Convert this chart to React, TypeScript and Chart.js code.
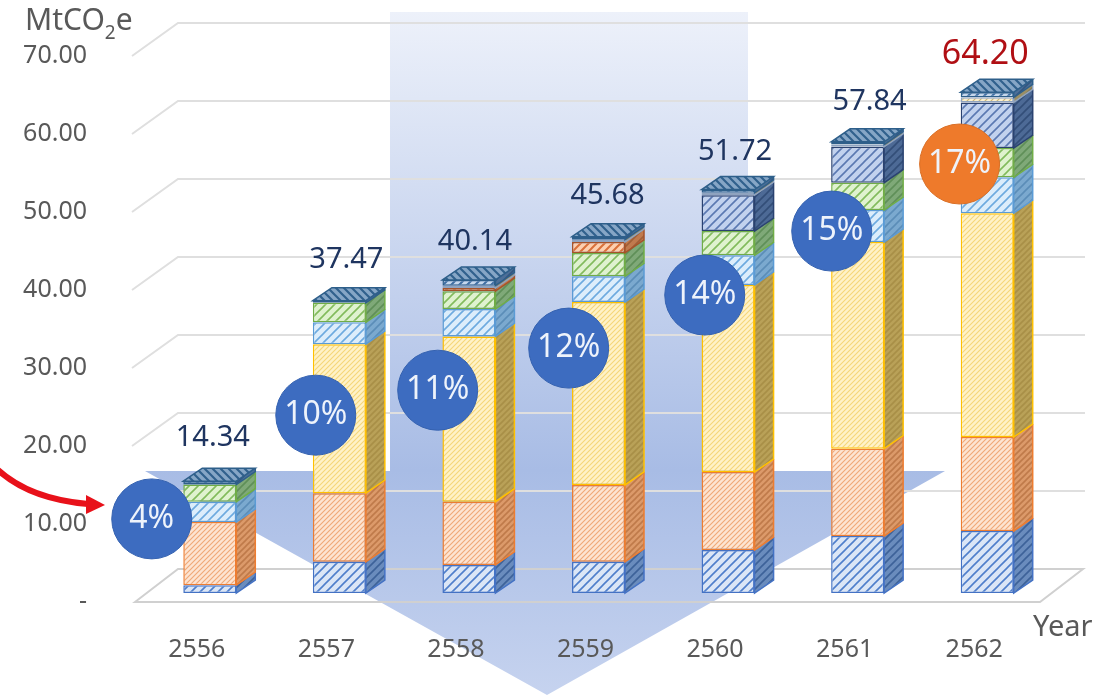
import React, { useEffect, useRef } from "react";
import { Chart, registerables } from "chart.js";

Chart.register(...registerables);

// Emissions by year, one array per stacked component (MtCO2e)
const years = ["2556", "2557", "2558", "2559", "2560", "2561", "2562"];
const baseBlue = [1.0, 4.0, 3.6, 4.0, 5.5, 7.3, 7.95];
const orange = [8.1, 8.8, 8.1, 9.85, 10.0, 11.2, 12.05];
const yellow = [0, 19.1, 21.2, 23.45, 24.0, 26.5, 28.7];
const skyBlue = [2.6, 2.8, 3.5, 3.3, 3.8, 4.1, 4.6];
const green = [2.2, 2.5, 2.3, 3.0, 3.1, 3.5, 3.75];
const rust = [0, 0, 0.4, 1.4, 0, 0, 0];
const slate = [0, 0, 0, 0, 4.6, 4.6, 5.85];
const sand = [0, 0, 0.3, 0.3, 0.3, 0.3, 0.65];
const cap = [0.44, 0.27, 0.74, 0.38, 0.42, 0.34, 0.65];
const totals = [14.34, 37.47, 40.14, 45.68, 51.72, 57.84, 64.2];
const yTicks = [0, 10, 20, 30, 40, 50, 60, 70];

// Share badges: percentage, and where each sits (category units, MtCO2e)
const shares = [4, 10, 11, 12, 14, 15, 17];
const shareX = [-0.448, 0.818, 1.759, 2.77, 3.82, 4.8, 5.787];
const shareY = [9.5, 22.8, 26, 31.4, 38.2, 46.4, 55];

const FONT = '"Noto Sans", sans-serif';
const DX = 19;
const DY = 13;

type Tone = { bg: string; line: string; gap: number; lw: number; edge: string; sideBg: string; sideLine: string };

const tones: Tone[] = [
  { bg: "#dbe6f6", line: "#4f7fcb", gap: 9, lw: 1.6, edge: "#4472c4", sideBg: "#6a8cbd", sideLine: "#3d6299" },
  { bg: "#fde4d2", line: "#f0a877", gap: 5, lw: 1.1, edge: "#ed7d31", sideBg: "#dc9a6a", sideLine: "#bf7a4a" },
  { bg: "#fff2c8", line: "#f5d679", gap: 5, lw: 1.1, edge: "#ffc000", sideBg: "#b9a158", sideLine: "#a88f47" },
  { bg: "#dcedfb", line: "#6daadf", gap: 9, lw: 1.6, edge: "#5b9bd5", sideBg: "#7ba9cf", sideLine: "#5b8db8" },
  { bg: "#dff2cf", line: "#82bb5c", gap: 9, lw: 1.6, edge: "#70ad47", sideBg: "#7fa978", sideLine: "#5f8f58" },
  { bg: "#fdd0b0", line: "#d9703a", gap: 8, lw: 2, edge: "#a5532a", sideBg: "#c07a4e", sideLine: "#a05f38" },
  { bg: "#c2d2ee", line: "#5b79b2", gap: 9, lw: 1.6, edge: "#2a4270", sideBg: "#4d6a96", sideLine: "#334e78" },
  { bg: "#fbf0d0", line: "#c9b67a", gap: 6, lw: 1.2, edge: "#8fa3bf", sideBg: "#9a8f66", sideLine: "#857a55" },
  { bg: "#c6d8ee", line: "#3f6ea3", gap: 8, lw: 2, edge: "#2e5f8a", sideBg: "#4c6f98", sideLine: "#335680" },
];

const series = [baseBlue, orange, yellow, skyBlue, green, rust, slate, sand, cap];

function hatch(bg: string, line: string, gap: number, lw: number, back = false): CanvasPattern {
  const tile = document.createElement("canvas");
  tile.width = gap;
  tile.height = gap;
  const c = tile.getContext("2d")!;
  c.fillStyle = bg;
  c.fillRect(0, 0, gap, gap);
  c.strokeStyle = line;
  c.lineWidth = lw;
  if (back) {
    c.translate(gap, 0);
    c.scale(-1, 1);
  }
  c.beginPath();
  for (const k of [-gap, 0, gap]) {
    c.moveTo(k - 1, gap + 1);
    c.lineTo(k + gap + 1, -1);
  }
  c.stroke();
  return c.createPattern(tile, "repeat")!;
}

// Wall guide lines, the floor and the big downward arrow sit behind everything else
const backdrop = {
  id: "backdrop",
  beforeDraw(chart: any) {
    const { ctx, scales } = chart;
    const y = scales.y;
    ctx.save();
    const g = ctx.createLinearGradient(0, 12, 0, 696);
    g.addColorStop(0, "#edf1fa");
    g.addColorStop(0.67, "#a8bce5");
    g.addColorStop(1, "#c6d3ef");
    ctx.fillStyle = g;
    ctx.beginPath();
    ctx.moveTo(390, 12);
    ctx.lineTo(748, 12);
    ctx.lineTo(748, 471);
    ctx.lineTo(945, 471);
    ctx.lineTo(547, 695);
    ctx.lineTo(145, 471);
    ctx.lineTo(390, 471);
    ctx.closePath();
    ctx.fill();

    ctx.lineWidth = 2;
    ctx.strokeStyle = "#dfdfdf";
    for (const v of yTicks.slice(1)) {
      const py = y.getPixelForValue(v);
      ctx.beginPath();
      ctx.moveTo(132, py + 9);
      ctx.lineTo(178, py - 24);
      ctx.lineTo(1085, py - 24);
      ctx.stroke();
    }
    const p0 = y.getPixelForValue(0);
    ctx.strokeStyle = "#d0d0d0";
    ctx.beginPath();
    ctx.moveTo(135, p0 + 9);
    ctx.lineTo(178, p0 - 24);
    ctx.lineTo(1083, p0 - 24);
    ctx.lineTo(1040, p0 + 9);
    ctx.closePath();
    ctx.stroke();
    ctx.restore();
  },
};

// Right-hand and top faces that give the columns their depth
const depth = {
  id: "depth",
  beforeDatasetDraw(chart: any, args: any) {
    if (args.index !== series.length) return;
    const { ctx } = chart;
    ctx.save();
    series.forEach((vals, i) => {
      const tone = tones[i];
      const pat = hatch(tone.sideBg, tone.sideLine, i === 1 || i === 2 ? 6 : 8, 1.6);
      chart.getDatasetMeta(i).data.forEach((bar: any, j: number) => {
        if (!vals[j]) return;
        const xr = bar.x + bar.width / 2;
        ctx.fillStyle = pat;
        ctx.beginPath();
        ctx.moveTo(xr, bar.y);
        ctx.lineTo(xr + DX, bar.y - DY);
        ctx.lineTo(xr + DX, bar.base - DY);
        ctx.lineTo(xr, bar.base);
        ctx.closePath();
        ctx.fill();
        ctx.strokeStyle = tone.edge;
        ctx.lineWidth = 1.5;
        ctx.beginPath();
        ctx.moveTo(xr, bar.y);
        ctx.lineTo(xr, bar.base);
        ctx.lineTo(xr + DX, bar.base - DY);
        ctx.lineTo(xr + DX, bar.y - DY);
        ctx.stroke();
      });
    });
    const topPat = hatch("#86a6c6", "#31618d", 8, 2.2, true);
    chart.getDatasetMeta(series.length - 1).data.forEach((bar: any) => {
      const xl = bar.x - bar.width / 2;
      const xr = bar.x + bar.width / 2;
      ctx.fillStyle = topPat;
      ctx.strokeStyle = "#2e5f8a";
      ctx.lineWidth = 1.5;
      ctx.beginPath();
      ctx.moveTo(xl, bar.y);
      ctx.lineTo(xl + DX, bar.y - DY);
      ctx.lineTo(xr + DX, bar.y - DY);
      ctx.lineTo(xr, bar.y);
      ctx.closePath();
      ctx.fill();
      ctx.stroke();
    });
    ctx.restore();
  },
};

// Small per-column nudges for the total labels
const totalShiftX = [3, 7, 6, 9, 7, 12, -2];
const totalRise = [43, 41, 38, 41, 38, 40, 38];

const annotations = {
  id: "annotations",
  afterDatasetsDraw(chart: any) {
    const { ctx } = chart;
    ctx.save();
    ctx.textAlign = "center";
    ctx.textBaseline = "middle";

    const tops = chart.getDatasetMeta(series.length - 1).data;
    totals.forEach((t, j) => {
      const last = j === totals.length - 1;
      ctx.font = `${last ? 34 : 29}px ${FONT}`;
      ctx.fillStyle = last ? "#b00f14" : "#1f3560";
      ctx.fillText(t.toFixed(2), tops[j].x + totalShiftX[j], tops[j].y - totalRise[j]);
    });

    ctx.font = `32px ${FONT}`;
    ctx.fillStyle = "#eef3fb";
    chart.getDatasetMeta(series.length).data.forEach((pt: any, j: number) => {
      ctx.fillText(`${shares[j]}%`, pt.x, pt.y);
    });

    // Red pointer towards the first badge
    ctx.strokeStyle = "#e8111a";
    ctx.lineWidth = 6;
    ctx.beginPath();
    ctx.moveTo(-2, 470);
    ctx.quadraticCurveTo(30, 499, 88, 504);
    ctx.stroke();
    ctx.fillStyle = "#e8111a";
    ctx.beginPath();
    ctx.moveTo(105, 505);
    ctx.lineTo(86, 495);
    ctx.lineTo(86, 514);
    ctx.closePath();
    ctx.fill();

    // Axis titles
    ctx.fillStyle = "#595959";
    ctx.textAlign = "left";
    ctx.font = `30px ${FONT}`;
    ctx.fillText("MtCO", 25, 21);
    const w = ctx.measureText("MtCO").width;
    ctx.font = `19px ${FONT}`;
    ctx.fillText("2", 25 + w, 34);
    const w2 = ctx.measureText("2").width;
    ctx.font = `30px ${FONT}`;
    ctx.fillText("e", 25 + w + w2, 21);
    ctx.font = `29px ${FONT}`;
    ctx.fillText("Year", 1033, 628);
    ctx.restore();
  },
};

export default function App() {
  const ref = useRef<HTMLCanvasElement>(null);

  useEffect(() => {
    document.body.style.margin = "0";
    const bars = series.map((data, i) => {
      const tone = tones[i];
      return {
        type: "bar" as const,
        data,
        stack: "total",
        grouped: false,
        order: i + 1,
        categoryPercentage: 53 / 129.57,
        barPercentage: 1,
        backgroundColor: hatch(tone.bg, tone.line, tone.gap, tone.lw),
        borderColor: tone.edge,
        borderWidth: (c: any) => (c.raw > 0 ? 1.5 : 0),
        borderSkipped: false,
      };
    });
    const badges = {
      type: "scatter" as const,
      xAxisID: "xb",
      order: 0,
      clip: false,
      data: shareX.map((x, j) => ({ x, y: shareY[j] })),
      pointRadius: 40,
      pointBackgroundColor: shares.map((_, j) => (j === shares.length - 1 ? "#ee7a2b" : "#3d6cc0")),
      pointBorderColor: shares.map((_, j) => (j === shares.length - 1 ? "#d96f26" : "#3562b0")),
      pointBorderWidth: 1,
    };
    const chart = new Chart(ref.current!, {
      type: "bar",
      data: { labels: years, datasets: [...bars, badges] as any },
      plugins: [backdrop, depth, annotations],
      options: {
        animation: false,
        responsive: false,
        events: [],
        layout: { padding: { top: 47, right: 55, left: 0, bottom: 0 } },
        plugins: { legend: { display: false }, tooltip: { enabled: false } },
        scales: {
          x: {
            offset: true,
            grid: { display: false, drawTicks: false },
            border: { display: false },
            afterFit: (s: any) => {
              s.height = 103;
            },
            ticks: {
              autoSkip: false,
              maxRotation: 0,
              labelOffset: -13,
              padding: 42,
              color: "#595959",
              font: { family: FONT, size: 25 },
            },
          },
          xb: { type: "linear", display: false, offset: false, min: -0.5, max: 6.5 },
          y: {
            min: 0,
            max: 70,
            afterBuildTicks: (s: any) => {
              s.ticks = yTicks.map((value) => ({ value }));
            },
            afterFit: (s: any) => {
              s.width = 145;
              s.paddingTop = 0;
              s.paddingBottom = 0;
            },
            grid: { display: false, drawTicks: false },
            border: { display: false },
            ticks: {
              padding: 58,
              labelOffset: 9,
              color: "#595959",
              font: { family: FONT, size: 25 },
              callback: (v: any) => (v === 0 ? "-" : Number(v).toFixed(2)),
            },
          },
        },
      },
    });
    return () => chart.destroy();
  }, []);

  return <canvas ref={ref} width={1107} height={696} style={{ display: "block" }} />;
}
